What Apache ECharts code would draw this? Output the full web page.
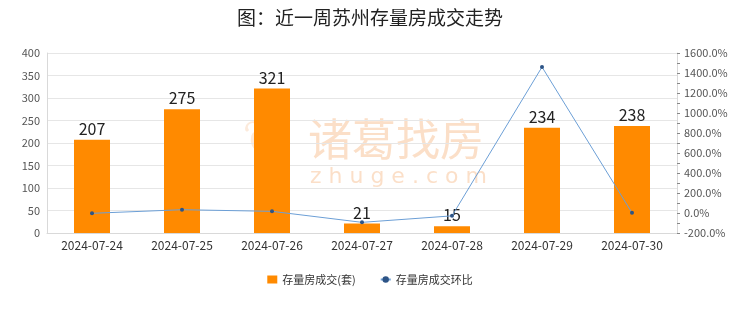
<!DOCTYPE html>
<html>
<head>
<meta charset="utf-8">
<script src="https://cdn.jsdelivr.net/npm/echarts@6/dist/echarts.min.js"></script>
<style>
html,body{margin:0;padding:0;background:#fff;}
#c{width:740px;height:312px;}
</style>
</head>
<body>
<div id="c"></div>
<script>
var categories = ['2024-07-24','2024-07-25','2024-07-26','2024-07-27','2024-07-28','2024-07-29','2024-07-30'];
var volume = [207, 275, 321, 21, 15, 234, 238];
var ratio = [-3, 32.9, 16.7, -93.5, -28.6, 1460, 1.7];
var titleText = '图：近一周苏州存量房成交走势';
var barName = '存量房成交(套)';
var lineName = '存量房成交环比';

var font = '"Noto Sans CJK SC", "Noto Sans", sans-serif';
var chart = echarts.init(document.getElementById('c'));
chart.setOption({
  animation: false,
  textStyle: {fontFamily: font},
  title: {
    text: titleText, left: 'center', top: 3,
    textStyle: {fontSize: 19, fontWeight: 'normal', color: '#222', fontFamily: font}
  },
  graphic: [
    {type: 'text', left: 308, top: 117, z: 0, silent: true,
     style: {text: '诸葛找房', font: '44px "Noto Sans CJK SC"', fill: 'rgba(245,170,110,0.38)'}},
    {type: 'text', left: 310, top: 166, z: 0, silent: true,
     style: {text: 'z h u g e . c o m', font: '22px "DejaVu Sans"', fill: 'rgba(245,170,110,0.38)'}},
    {type: 'text', left: 242, top: 117, z: 0, silent: true,
     style: {text: '❦', font: '50px "DejaVu Sans"', fill: 'rgba(245,170,110,0.25)'}}
  ],
  legend: {
    bottom: 22, left: 'center', itemWidth: 10, itemHeight: 8, itemGap: 24,
    textStyle: {fontSize: 11, color: '#333'},
    data: [
      {name: barName, icon: 'rect'},
      {name: lineName}
    ]
  },
  grid: {left: 47, right: 63, top: 53, bottom: 79},
  xAxis: {
    type: 'category', data: categories,
    axisLine: {lineStyle: {color: '#d9d9d9'}},
    axisTick: {show: false},
    axisLabel: {fontSize: 12, color: '#333', margin: 6}
  },
  yAxis: [
    {type: 'value', min: 0, max: 400, interval: 50,
     axisLine: {show: true, lineStyle: {color: '#d9d9d9'}},
     axisTick: {show: false},
     axisLabel: {fontSize: 11, color: '#555', margin: 7},
     splitLine: {lineStyle: {color: '#e6e6e6'}}},
    {type: 'value', min: -200, max: 1600, interval: 200,
     axisLine: {show: true, lineStyle: {color: '#d9d9d9'}},
     axisTick: {show: true, length: 3, lineStyle: {color: '#888'}},
     minorTick: {show: true, splitNumber: 2, length: 3, lineStyle: {color: '#888'}},
     axisLabel: {fontSize: 11, color: '#555', margin: 7, formatter: function(v){return v.toFixed(1) + '%';}},
     splitLine: {show: false}}
  ],
  series: [
    {name: barName, type: 'bar', data: volume, barWidth: '40%', z: 2,
     itemStyle: {color: '#ff8a00'},
     label: {show: true, position: 'top', fontSize: 16, color: '#222', distance: 3}},
    {name: lineName, type: 'line', yAxisIndex: 1, data: ratio, z: 3,
     symbol: 'circle', symbolSize: 4,
     lineStyle: {color: '#6c9fd6', width: 1},
     itemStyle: {color: '#2d5486'}}
  ]
});
</script>
</body>
</html>
